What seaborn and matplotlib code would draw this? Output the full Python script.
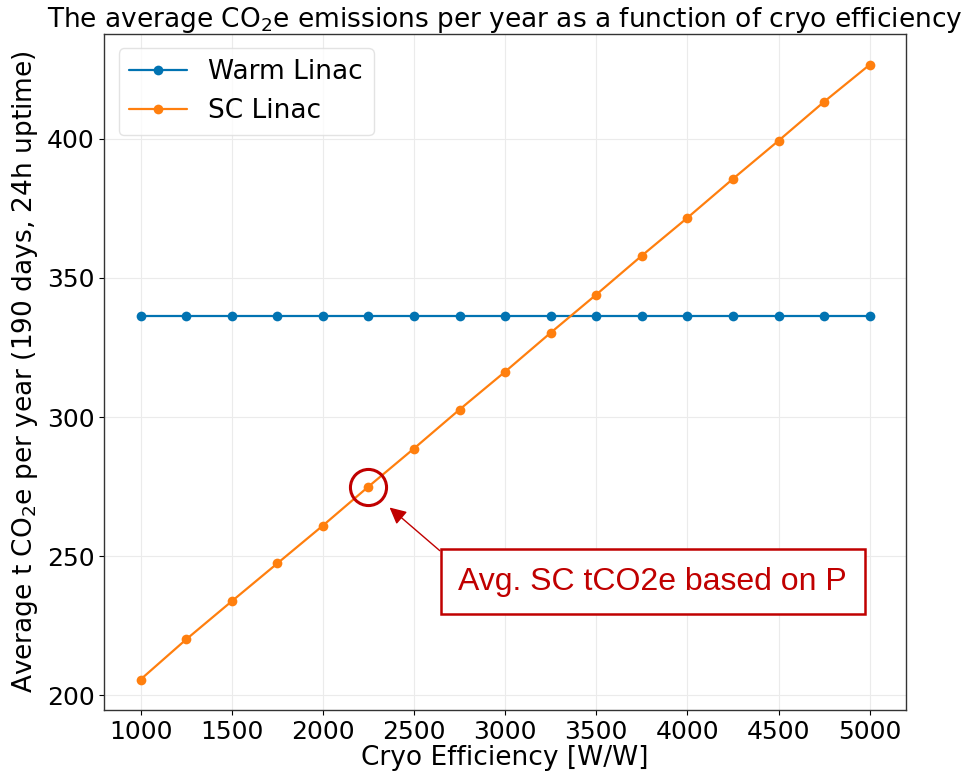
import numpy as np
import pandas as pd
import matplotlib
matplotlib.use("Agg")
import matplotlib.pyplot as plt
import seaborn as sns

cryo_eff = [1000, 1250, 1500, 1750, 2000, 2250, 2500, 2750, 3000, 3250, 3500,
            3750, 4000, 4250, 4500, 4750, 5000]
warm_linac = [336.4] * 17
sc_linac = [205.7, 220.1, 233.8, 247.4, 261.0, 275.0, 288.7, 302.7, 316.3, 330.3,
            344.0, 358.0, 371.6, 385.6, 399.3, 413.3, 426.6]
series_names = ["Warm Linac", "SC Linac"]
colors = ["#0173B2", "#FF7F0E"]

df = pd.DataFrame({
    "x": cryo_eff * 2,
    "y": warm_linac + sc_linac,
    "series": [series_names[0]] * 17 + [series_names[1]] * 17,
})

sns.set_theme(style="whitegrid")
plt.rcParams["font.family"] = ["DejaVu Sans"]
plt.rcParams["text.color"] = "black"
plt.rcParams["axes.labelcolor"] = "black"
plt.rcParams["xtick.color"] = "black"
plt.rcParams["ytick.color"] = "black"

fig = plt.figure(figsize=(9.64, 7.72), dpi=100)
ax = fig.add_axes([0.108, 0.080, 0.832, 0.876])

sns.lineplot(data=df, x="x", y="y", hue="series", palette=colors, marker="o",
             markersize=7, markeredgewidth=0, linewidth=1.6, ax=ax)

ax.set_xticks([1000, 1500, 2000, 2500, 3000, 3500, 4000, 4500, 5000])
ax.set_yticks([200, 250, 300, 350, 400])
ax.tick_params(axis="both", labelsize=18, length=3.5, width=0.8, color="black",
               direction="out", left=True, bottom=True, pad=3.5)
ax.set_xlabel("Cryo Efficiency [W/W]", fontsize=19, labelpad=1)
ax.set_ylabel("Average t CO$_2$e per year (190 days, 24h uptime)", fontsize=19,
              labelpad=5)
ax.set_title("The average CO$_2$e emissions per year as a function of cryo efficiency",
             fontsize=19, pad=5)
for s in ax.spines.values():
    s.set_color("#333333")
    s.set_linewidth(1)
ax.grid(color="#ebebeb", linewidth=0.8)
ax.set_facecolor("white")

leg = ax.legend(loc="upper left", fontsize=19, frameon=True, handlelength=2.2,
                borderaxespad=0.55)
leg.get_frame().set_edgecolor("#dddddd")

# highlight circle
ax.plot([cryo_eff[5]], [sc_linac[5]], marker="o", markersize=26, markerfacecolor="none",
        markeredgecolor="#C00000", markeredgewidth=2.2, linestyle="none")
ax.annotate("Avg. SC tCO2e based on P", xy=(2366, 267.5), xytext=(3809, 240.9),
            fontsize=23, color="#C00000", family="Liberation Sans",
            ha="center", va="center",
            bbox=dict(boxstyle="square,pad=0.55", fc="white", ec="#C00000", lw=1.8),
            arrowprops=dict(arrowstyle="-|>", color="#C00000", lw=1, mutation_scale=25,
                            shrinkA=0, shrinkB=0, relpos=(0, 1)))

fig.savefig("out.png", dpi=100)
